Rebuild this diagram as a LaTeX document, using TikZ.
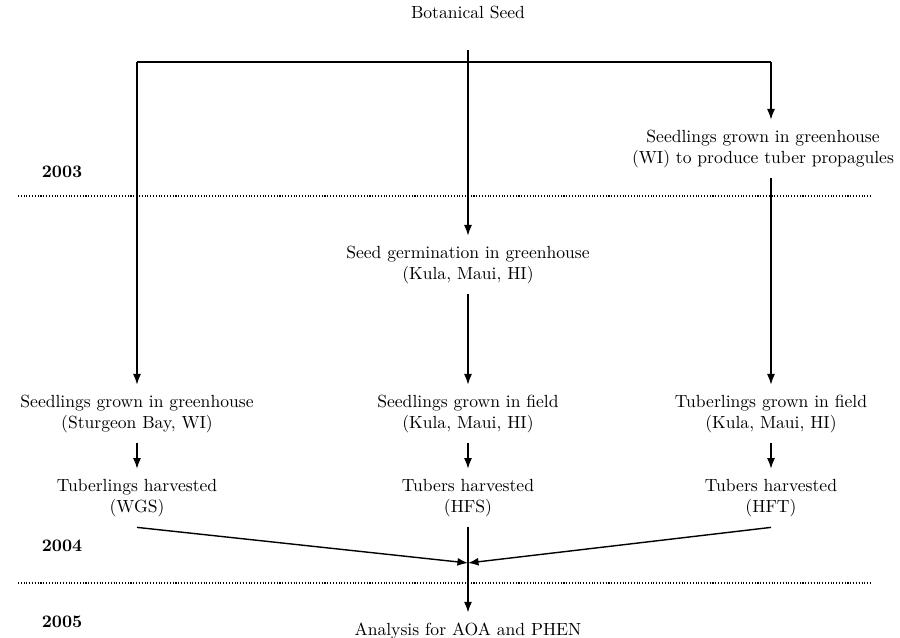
\documentclass[tikz,border=0pt]{standalone}
\usepackage{tikz}
\usetikzlibrary{positioning,calc,arrows.meta}

\begin{document}
\begin{tikzpicture}[item/.style={align=center,inner sep=1pt,outer sep=5pt},
year/.style={font=\bfseries},
arr/.style={-{Latex[length=6pt,width=4.5pt]},semithick},
sep/.style={densely dotted,semithick}]
\useasboundingbox (0,0) rectangle (18,-12.76);

% boxes
\node[item] (seed) at (9.36,-0.24) {Botanical Seed};
\node[item] (prop) at (15.26,-2.98) {Seedlings grown in greenhouse\\(WI) to produce tuber propagules};
\node[item] (germ) at (9.36,-5.3) {Seed germination in greenhouse\\(Kula, Maui, HI)};
\node[item] (sgh) at (2.74,-8.28) {Seedlings grown in greenhouse\\(Sturgeon Bay, WI)};
\node[item] (sgf) at (9.36,-8.28) {Seedlings grown in field\\(Kula, Maui, HI)};
\node[item] (tgf) at (15.42,-8.28) {Tuberlings grown in field\\(Kula, Maui, HI)};
\node[item] (wgs) at (2.74,-9.96) {Tuberlings harvested\\(WGS)};
\node[item] (hfs) at (9.36,-9.96) {Tubers harvested\\(HFS)};
\node[item] (hft) at (15.42,-9.96) {Tubers harvested\\(HFT)};
\node[item] (aoa) at (9.36,-12.62) {Analysis for AOA and PHEN};

% years
\node[year] (y3) at (1.24,-3.44) {2003};
\node[year] (y4) at (1.24,-10.92) {2004};
\node[year] (y5) at (1.24,-12.44) {2005};

% year lines
\coordinate (s1a) at (0.36,-3.92);
\coordinate (s1b) at (17.4,-3.92);
\coordinate (s2a) at (0.36,-11.66);
\coordinate (s2b) at (17.4,-11.66);
\draw[sep] (s1a) -- (s1b);
\draw[sep] (s2a) -- (s2b);

% branches
\coordinate (bl) at (2.74,-1.24);
\coordinate (br) at (15.42,-1.24);
\draw[arr,shorten <=12pt] (seed) -- (germ);
\draw[semithick] (bl) -- (br);
\draw[arr] (bl) -- (sgh);
\draw[arr] (br) -- (br |- prop.north);
\draw[arr] (prop.south -| tgf) -- (tgf);
\draw[arr] (germ) -- (sgf);

\draw[arr] (sgh) -- (wgs);
\draw[arr] (sgf) -- (hfs);
\draw[arr] (tgf) -- (hft);

% merge
\coordinate (meet) at (9.36,-11.26);
\draw[arr] (hfs) -- (aoa);
\draw[arr,thick] (wgs.south) -- (meet);
\draw[arr,thick] (hft.south) -- (meet);
\end{tikzpicture}
\end{document}
